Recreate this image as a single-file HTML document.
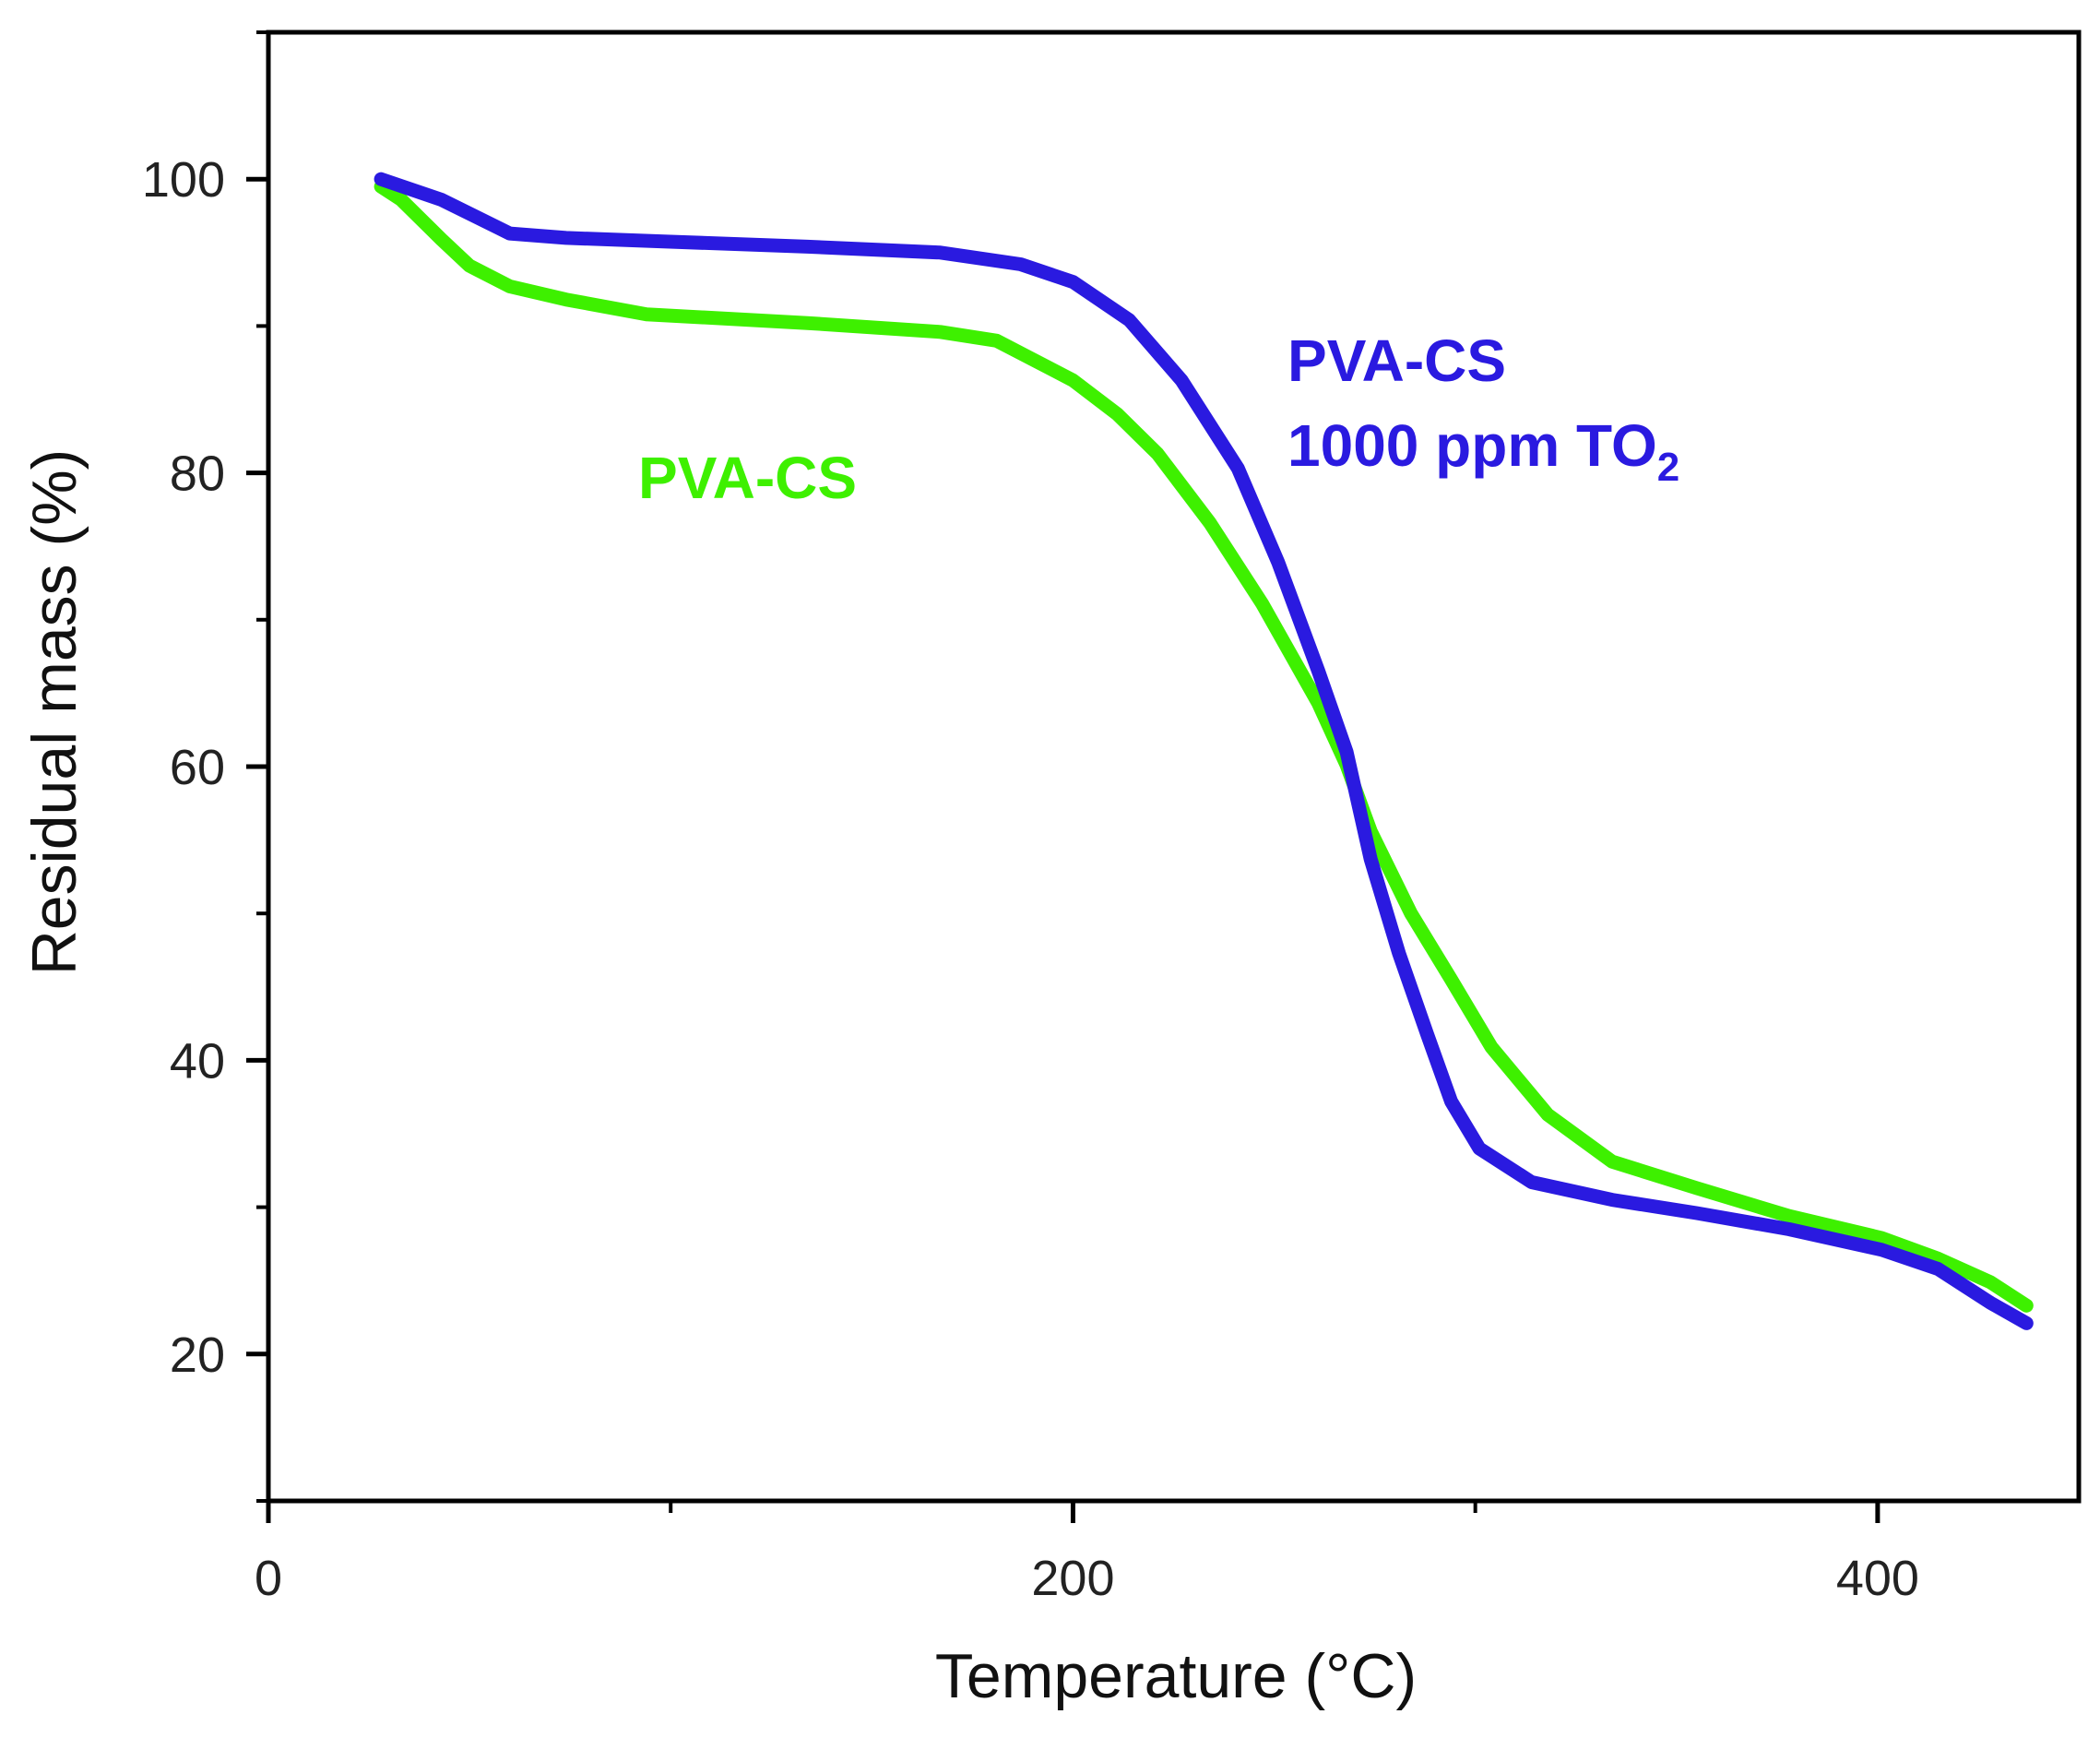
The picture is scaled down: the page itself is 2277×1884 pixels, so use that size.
<!DOCTYPE html>
<html><head><meta charset="utf-8"><style>html,body{margin:0;padding:0;background:#fff}svg{display:block}</style></head>
<body>
<svg id="chart" width="2277" height="1884" viewBox="0 0 2277 1884" xmlns="http://www.w3.org/2000/svg" font-family="Liberation Sans, sans-serif">
<g id="axes"></g>
<g id="series"></g>
<text x="692" y="540" font-size="64" font-weight="bold" fill="#3ef000">PVA-CS</text>
<text x="1396" y="413" font-size="64" font-weight="bold" fill="#2a1ae0">PVA-CS</text>
<text x="1396" y="505" font-size="64" font-weight="bold" fill="#2a1ae0">1000 ppm TO<tspan font-size="44" dy="16">2</tspan></text>
<text x="1275" y="1840" font-size="68" text-anchor="middle" fill="#111">Temperature (°C)</text>
<text transform="translate(82,772) rotate(-90)" font-size="68" text-anchor="middle" fill="#111">Residual mass (%)</text>
</svg>
<script>
const xTicks=[0,200,400];
const xMinor=[100,300];
const yTicks=[20,40,60,80,100];
const yMinor=[10,30,50,70,90,110];
const blueT=[28,43,60,74,134,167,187,200,214,227,241,251,261,268,274,281,288,294,301,314,334,355,378,401,415,428,437];
const blueV=[100,98.6,96.3,96,95.4,95,94.2,93,90.4,86.3,80.3,73.9,66.5,61,53.7,47.3,41.8,37.2,34,31.7,30.5,29.6,28.5,27.1,25.8,23.5,22.1];
const greenT=[28,33,43,50,60,74,94,134,167,181,200,211,221,234,247,261,268,274,284,294,304,318,334,355,378,401,415,428,437];
const greenV=[99.5,98.6,95.9,94.1,92.7,91.8,90.8,90.2,89.6,89,86.3,84,81.3,76.6,71.1,64.3,60.1,55.6,50,45.5,40.9,36.3,33.1,31.3,29.4,27.9,26.5,24.9,23.3];
const L=291,R=2254,T=35,B=1627;
const xS=t=>L+t*(R-L)/450;
const yS=v=>B-(v-10)*(B-T)/100;
const NS='http://www.w3.org/2000/svg';
const ax=document.getElementById('axes'),se=document.getElementById('series');
function mk(tag,attrs,parent){const e=document.createElementNS(NS,tag);for(const k in attrs)e.setAttribute(k,attrs[k]);parent.appendChild(e);return e;}
const frame=mk('rect',{x:L,y:T,width:R-L,height:B-T,fill:'none',stroke:'#000','stroke-width':5},ax);


xTicks.forEach(t=>{const l=mk('line',{x1:xS(t),x2:xS(t),y1:B,y2:B+24,stroke:'#000','stroke-width':5},ax);


const tx=mk('text',{x:xS(t),y:1729,'font-size':54,'text-anchor':'middle',fill:'#222'},ax);tx.textContent=t;

});
xMinor.forEach(t=>{const l=mk('line',{x1:xS(t),x2:xS(t),y1:B,y2:B+13,stroke:'#000','stroke-width':4},ax);

});
yTicks.forEach(v=>{const l=mk('line',{x1:L-24,x2:L,y1:yS(v),y2:yS(v),stroke:'#000','stroke-width':5},ax);


const tx=mk('text',{x:244,y:yS(v)+19,'font-size':54,'text-anchor':'end',fill:'#222'},ax);tx.textContent=v;

});
yMinor.forEach(v=>{const l=mk('line',{x1:L-13,x2:L,y1:yS(v),y2:yS(v),stroke:'#000','stroke-width':4},ax);

});
function line(ts,vs,col,name){const d=ts.map((t,i)=>(i?'L':'M')+xS(t).toFixed(1)+','+yS(vs[i]).toFixed(1)).join('');
const p=mk('path',{d:d,fill:'none',stroke:col,'stroke-width':15,'stroke-linejoin':'round','stroke-linecap':'round'},se);

}
line(greenT,greenV,'#3ef000','series-pva-cs');
line(blueT,blueV,'#2a1ae0','series-pva-cs-tio2');
</script>
</body></html>
